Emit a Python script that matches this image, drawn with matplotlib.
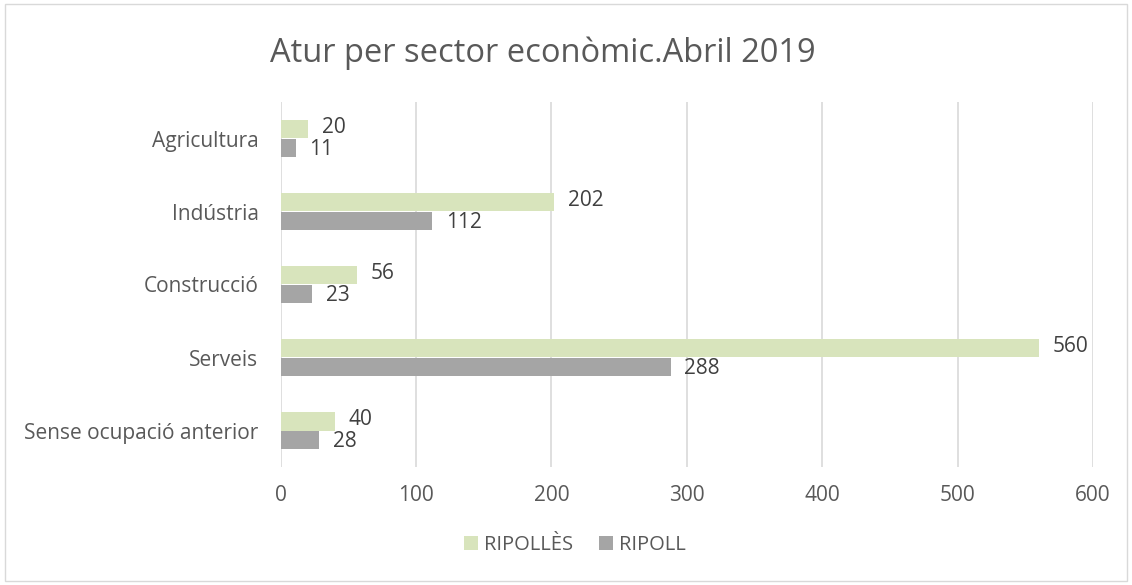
import matplotlib.pyplot as plt
import numpy as np
from matplotlib.patches import Rectangle

categories = ["Agricultura", "Indústria", "Construcció", "Serveis", "Sense ocupació anterior"]
ripolles = [20, 202, 56, 560, 40]
ripoll = [11, 112, 23, 288, 28]
xticks = [0, 100, 200, 300, 400, 500, 600]

green = "#D8E4BC"
grey = "#A5A5A5"
txt = "#595959"

plt.rcParams['font.family'] = ['Open Sans', 'DejaVu Sans']

fig = plt.figure(figsize=(11.32, 5.85), dpi=100)
ax = fig.add_axes([0.248, 1 - 467 / 585, 0.9655 - 0.248, (467 - 102) / 585])

y = np.arange(len(categories))
h = 0.26
ax.barh(y - h / 2, ripolles, height=h, color=green, label="RIPOLLÈS", zorder=3)
ax.barh(y + h / 2, ripoll, height=h, color=grey, label="RIPOLL", zorder=3)

for i in range(len(categories)):
    ax.annotate(str(ripolles[i]), (ripolles[i], y[i] - h / 2), xytext=(10, 1),
                textcoords="offset points", va="center", ha="left", fontsize=15, color="#404040")
    ax.annotate(str(ripoll[i]), (ripoll[i], y[i] + h / 2), xytext=(10, -1),
                textcoords="offset points", va="center", ha="left", fontsize=15, color="#404040")

ax.set_ylim(len(categories) - 0.5, -0.5)
ax.set_xlim(0, 600)
ax.set_xticks(xticks)
ax.set_yticks(y)
ax.set_yticklabels(categories)
ax.tick_params(axis="both", length=0, labelsize=15, colors=txt)
ax.tick_params(axis="x", pad=13)
ax.tick_params(axis="y", pad=16)
ax.grid(axis="x", color="#D9D9D9", linewidth=1.2, zorder=0)
for s in ax.spines.values():
    s.set_visible(False)

fig.text(543 / 1132, 0.909, "Atur per sector econòmic.Abril 2019", ha="center", va="center",
         fontsize=23.5, color=txt)

fig.legend(loc="center", bbox_to_anchor=(0.508, 1 - 545 / 585), ncol=2, frameon=False,
           fontsize=14.5, labelcolor=txt, handlelength=0.7, handleheight=0.7,
           columnspacing=1.3, handletextpad=0.3)

fig.patches.append(Rectangle((0.004, 0.007), 0.992, 0.986, transform=fig.transFigure,
                             fill=False, edgecolor="#D9D9D9", linewidth=1))

fig.savefig("out.png", dpi=100)
